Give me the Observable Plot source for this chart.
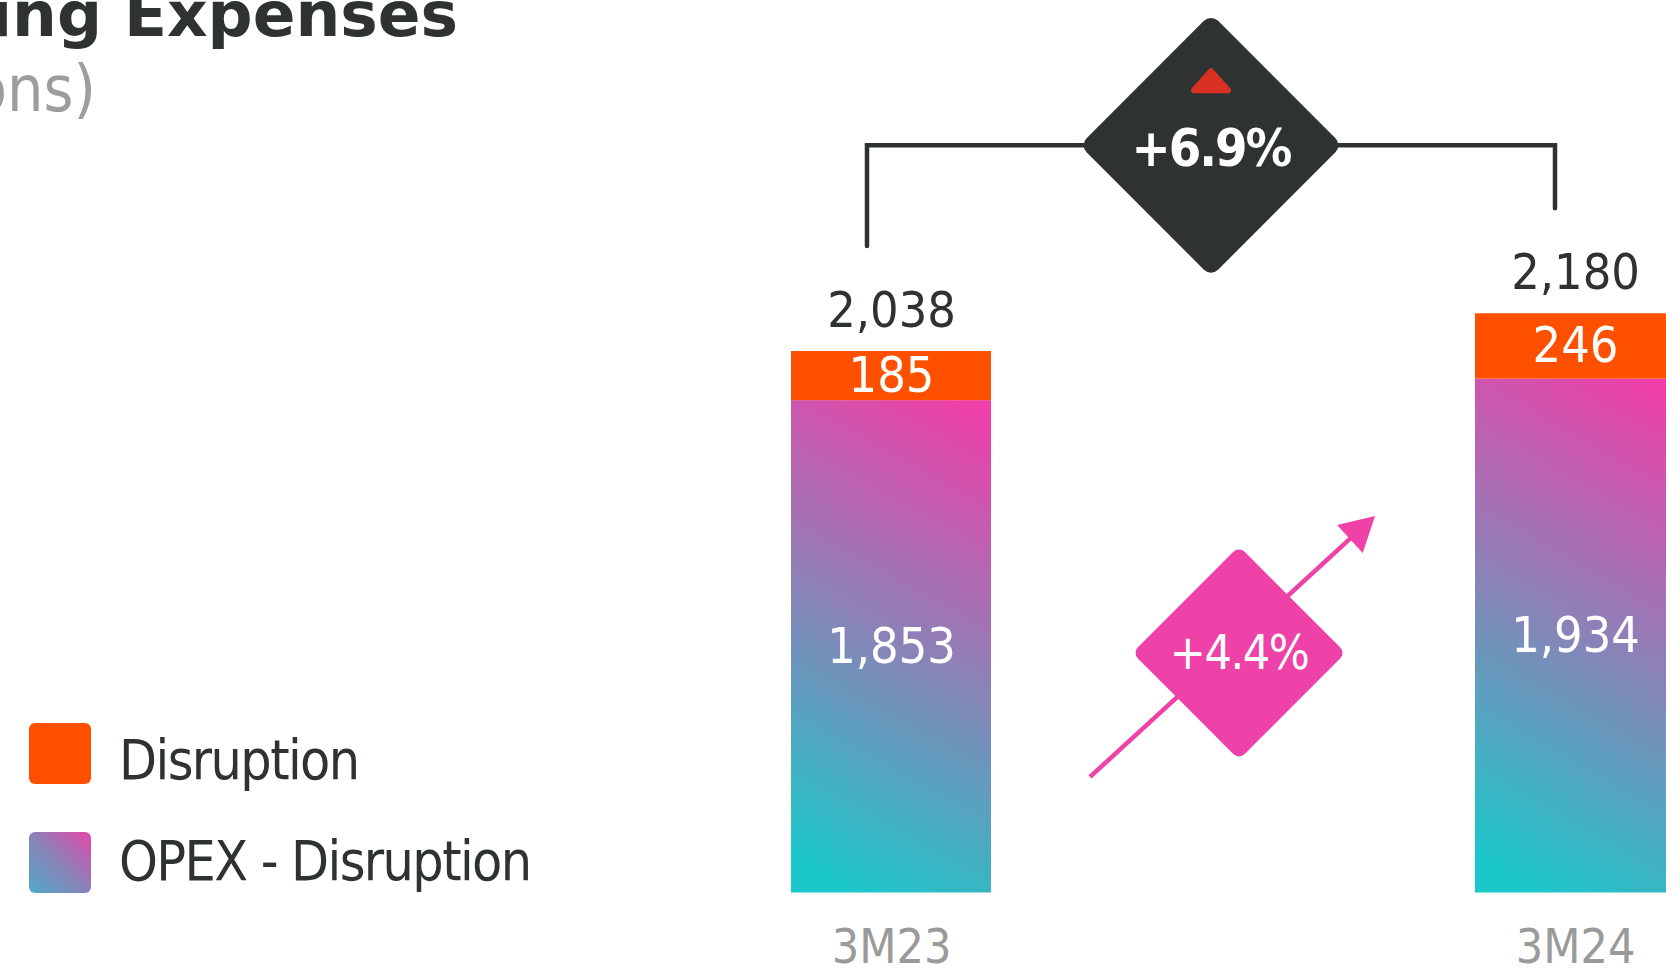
<!DOCTYPE html>
<html>
<head>
<meta charset="utf-8">
<script src="https://cdn.jsdelivr.net/npm/d3@7"></script>
<script src="https://cdn.jsdelivr.net/npm/@observablehq/plot@0.6"></script>
<style>
  html, body { margin: 0; padding: 0; background: #ffffff; overflow: hidden; }
  body { width: 1666px; height: 968px; position: relative; font-family: "DejaVu Sans Condensed", "DejaVu Sans", sans-serif; }
  #chart { position: absolute; left: 0; top: 0; }
  .title { position: absolute; white-space: nowrap; line-height: 1; font-family: "DejaVu Sans", sans-serif; }
  #title { right: 1208px; top: -17px; font-size: 63px; font-weight: bold; color: #2f3233; }
  #subtitle { right: 1570px; top: 57px; font-size: 64px; color: #9d9d9d; font-family: "DejaVu Sans Condensed", "DejaVu Sans", sans-serif; }
  .legend-item { position: absolute; left: 29px; height: 61px; white-space: nowrap; }
  .legend-item .sw { position: absolute; left: 0; top: 0; width: 62px; height: 61px; border-radius: 6px; }
  .legend-item .lb { position: absolute; left: 90px; font-size: 55px; line-height: 1; color: #2f3233; letter-spacing: -1.6px; font-family: "DejaVu Sans Condensed", "DejaVu Sans", sans-serif; }
</style>
</head>
<body>
<div id="chart"></div>
<div id="title" class="title"></div>
<div id="subtitle" class="title"></div>
<div id="legend"></div>
<script>
// ---- data ----
const periods = ["3M23", "3M24"];
const opexExDisruption = [1853, 1934];
const disruption = [185, 246];
const totals = [2038, 2180];
const totalChangeLabel = "+6.9%";
const opexChangeLabel = "+4.4%";
const seriesNames = ["Disruption", "OPEX - Disruption"];
const titleText = "Operating Expenses";
const subtitleText = "(R$ millions)";

const rows = periods.map((p, i) => ({
  period: p,
  opex: opexExDisruption[i],
  disruption: disruption[i],
  total: totals[i]
}));

const FONT = '"DejaVu Sans Condensed", "DejaVu Sans", sans-serif';
const fmt = d3.format(",");

document.getElementById("title").textContent = titleText;
document.getElementById("subtitle").textContent = subtitleText;

// legend
const legendStyles = [
  {top: 723, labelTop: 10, bg: "#ff5000"},
  {top: 832, labelTop: 1.5, bg: "linear-gradient(to top right, #4fa9c9 0%, #8a82b8 50%, #e446a8 100%)"}
];
const legend = document.getElementById("legend");
seriesNames.forEach((name, i) => {
  const item = document.createElement("div");
  item.className = "legend-item";
  item.style.top = legendStyles[i].top + "px";
  const sw = document.createElement("div");
  sw.className = "sw";
  sw.style.background = legendStyles[i].bg;
  const lb = document.createElement("div");
  lb.className = "lb";
  lb.style.top = legendStyles[i].labelTop + "px";
  lb.textContent = name;
  item.appendChild(sw);
  item.appendChild(lb);
  legend.appendChild(item);
});

// decorations: gradient defs, bracket, change diamonds, arrow
function decorations(index, scales) {
  const x = scales.x, y = scales.y;
  const bw = x.bandwidth();
  const cx = periods.map(p => x(p) + bw / 2);
  const tops = totals.map(t => y(t));
  const g = d3.create("svg:g");

  const defs = g.append("defs");
  const lg = defs.append("linearGradient").attr("id", "opexGrad")
    .attr("x1", 0.38).attr("y1", 1.02).attr("x2", 0.62).attr("y2", -0.05);
  [[0, "#1ac8c8"], [0.5, "#8a83b8"], [1, "#ef3fa8"]].forEach(([o, c]) =>
    lg.append("stop").attr("offset", o).attr("stop-color", c));

  // bracket
  const bx = [cx[0] - 24, cx[1] - 20];
  const by = Math.min(...tops) - 168;
  g.append("path")
    .attr("d", `M${bx[0]},${tops[0] - 105}V${by}H${bx[1]}V${tops[1] - 105}`)
    .attr("fill", "none").attr("stroke", "#2f3233").attr("stroke-width", 4.5)
    .attr("stroke-linecap", "round");

  // big dark diamond
  const dcx = (bx[0] + bx[1]) / 2;
  const s1 = 186;
  g.append("rect").attr("x", -s1 / 2).attr("y", -s1 / 2).attr("width", s1).attr("height", s1)
    .attr("rx", 10).attr("fill", "#2f3233")
    .attr("transform", `translate(${dcx},${by}) rotate(45)`);
  g.append("path")
    .attr("d", `M${dcx},${by - 74}L${dcx + 17},${by - 55}H${dcx - 17}Z`)
    .attr("fill", "#da3022").attr("stroke", "#da3022").attr("stroke-width", 6)
    .attr("stroke-linejoin", "round");
  g.append("text").attr("x", dcx).attr("y", by + 21)
    .attr("text-anchor", "middle").attr("fill", "#ffffff")
    .attr("font-size", 52).attr("font-weight", "bold").attr("letter-spacing", -2)
    .attr("font-family", FONT)
    .text(totalChangeLabel);

  // pink arrow + diamond
  const gapMid = (x(periods[0]) + bw + x(periods[1])) / 2;
  const pcx = gapMid + 6;
  const pcy = (y(opexExDisruption[0] / 2) + y(opexExDisruption[1] / 2)) / 2 + 12;
  const start = [pcx - 149, pcy + 124];
  const tip = [pcx + 136, pcy - 137];
  const dx = tip[0] - start[0], dy = tip[1] - start[1];
  const len = Math.hypot(dx, dy);
  const u = [dx / len, dy / len];
  const nrm = [-u[1], u[0]];
  const hl = 34, hw = 19;
  const base = [tip[0] - hl * u[0], tip[1] - hl * u[1]];
  g.append("line")
    .attr("x1", start[0]).attr("y1", start[1])
    .attr("x2", base[0] + 4 * u[0]).attr("y2", base[1] + 4 * u[1])
    .attr("stroke", "#ee42a8").attr("stroke-width", 4.5);
  g.append("path")
    .attr("d", `M${tip[0]},${tip[1]}L${base[0] + hw * nrm[0]},${base[1] + hw * nrm[1]}L${base[0] - hw * nrm[0]},${base[1] - hw * nrm[1]}Z`)
    .attr("fill", "#ee42a8");
  const s2 = 151;
  g.append("rect").attr("x", -s2 / 2).attr("y", -s2 / 2).attr("width", s2).attr("height", s2)
    .attr("rx", 8).attr("fill", "#ee42a8")
    .attr("transform", `translate(${pcx},${pcy}) rotate(45)`);
  g.append("text").attr("x", pcx).attr("y", pcy + 16)
    .attr("text-anchor", "middle").attr("fill", "#ffffff")
    .attr("font-size", 48).attr("letter-spacing", -1.5)
    .attr("font-family", FONT)
    .text(opexChangeLabel);

  return g.node();
}

const plot = Plot.plot({
  width: 1666,
  height: 968,
  marginTop: 0, marginRight: 0, marginBottom: 0, marginLeft: 0,
  style: {fontFamily: FONT, background: "transparent", overflow: "visible"},
  x: {type: "band", domain: periods, range: [790, 1675], paddingInner: 0.708, paddingOuter: 0, axis: null},
  y: {domain: [0, 2038], range: [892.5, 351], axis: null},
  marks: [
    decorations,
    Plot.barY(rows, {x: "period", y1: 0, y2: "opex", fill: "url(#opexGrad)"}),
    Plot.barY(rows, {x: "period", y1: "opex", y2: d => d.opex + d.disruption, fill: "#ff5000"}),
    Plot.text(rows, {x: "period", y: "total", text: d => fmt(d.total), dy: -25, lineAnchor: "bottom",
      fontSize: 50, fill: "#2f3233", fontFamily: FONT}),
    Plot.text(rows, {x: "period", y: d => d.opex + d.disruption / 2, text: d => fmt(d.disruption),
      lineAnchor: "middle", fontSize: 50, fill: "#ffffff", fontFamily: FONT}),
    Plot.text(rows, {x: "period", y: d => d.opex / 2, text: d => fmt(d.opex),
      lineAnchor: "middle", fontSize: 50, fill: "#ffffff", fontFamily: FONT}),
    Plot.text(rows, {x: "period", y: 0, dy: 70, lineAnchor: "bottom", text: "period",
      fontSize: 48, fill: "#9a9a9a", fontFamily: FONT})
  ]
});
document.getElementById("chart").appendChild(plot);
</script>
</body>
</html>
